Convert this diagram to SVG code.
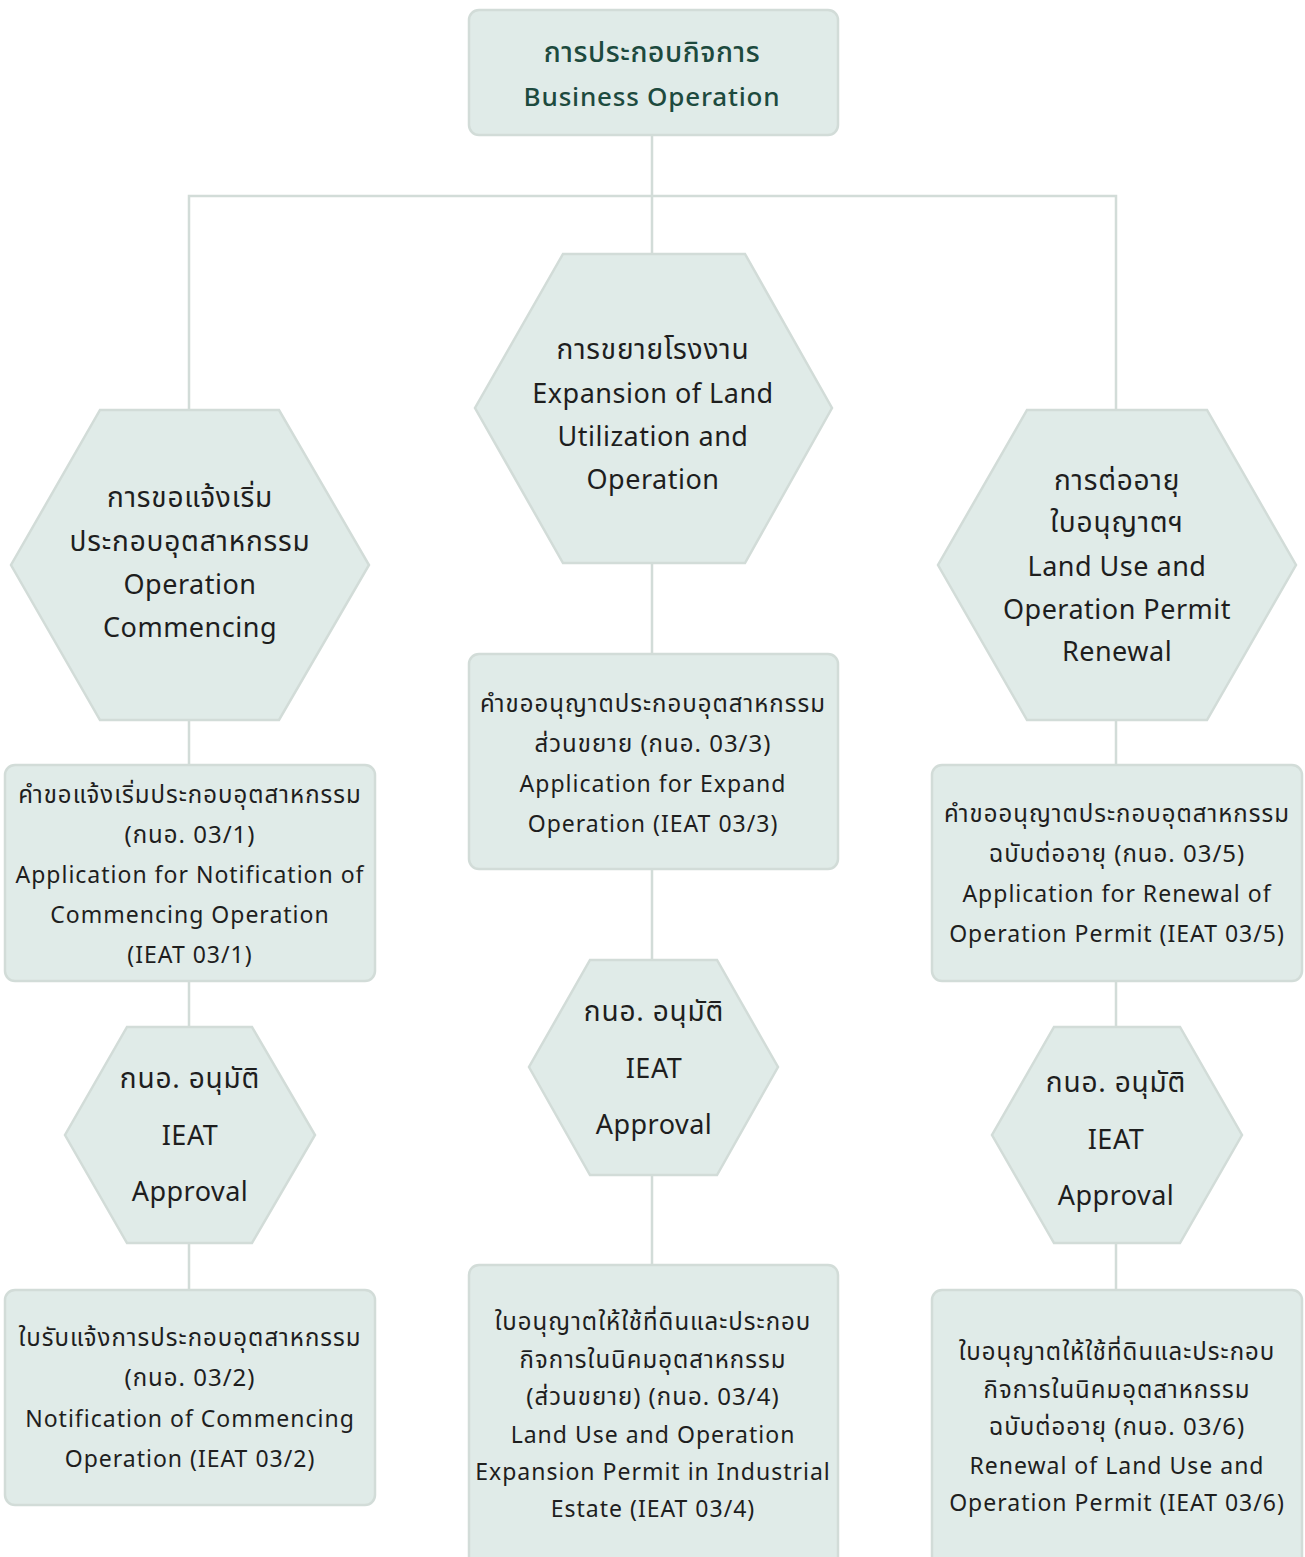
<svg xmlns="http://www.w3.org/2000/svg" width="1305" height="1557" viewBox="0 0 1305 1557">
<style>
.n{fill:#e0ebe8;stroke:#d2dcd8;stroke-width:2.5}
.c{stroke:#d2dcd8;stroke-width:2.5;fill:none}
text{font-family:"Noto Sans Thai","Noto Sans","Liberation Sans",sans-serif;text-anchor:middle;fill:#1e1e1e}
.h{font-size:27px;letter-spacing:0.5px}
.hth{font-size:28px;letter-spacing:0.8px}
.r{font-size:23px;letter-spacing:1px}
.rth{font-size:24px;letter-spacing:1px}
.t{font-size:26px;fill:#1d4a3e;font-weight:500;letter-spacing:0.8px}
.tth{font-size:28px;fill:#1d4a3e;font-weight:500;letter-spacing:0.6px}
</style>
<rect width="1305" height="1557" fill="#ffffff"/>
<g id="connectors">
<path class="c" d="M652 135V254M189 410V196H1116V410"/>
<path class="c" d="M189 720V765M189 981V1027M189 1243V1290"/>
<path class="c" d="M652 563V654M652 869V960M652 1175V1265"/>
<path class="c" d="M1116 720V765M1116 981V1027M1116 1243V1290"/>
</g>
<g id="top">
<rect class="n" x="469" y="10" width="369" height="125" rx="10"/>
<text class="tth" x="652" y="62">การประกอบกิจการ</text>
<text class="t" x="652" y="106">Business Operation</text>
</g>
<g id="hex-left">
<polygon class="n" points="100,410 279,410 369,565 279,720 100,720 11,565"/>
<text class="hth" x="190" y="507">การขอแจ้งเริ่ม</text>
<text class="hth" x="190" y="551">ประกอบอุตสาหกรรม</text>
<text class="h" x="190" y="594">Operation</text>
<text class="h" x="190" y="637">Commencing</text>
</g>
<g id="hex-center">
<polygon class="n" points="563,254 745,254 832,408 745,563 563,563 475,408"/>
<text class="hth" x="653" y="359">การขยายโรงงาน</text>
<text class="h" x="653" y="403">Expansion of Land</text>
<text class="h" x="653" y="446">Utilization and</text>
<text class="h" x="653" y="489">Operation</text>
</g>
<g id="hex-right">
<polygon class="n" points="1027,410 1207,410 1296,565 1207,720 1027,720 938,565"/>
<text class="hth" x="1117" y="490">การต่ออายุ</text>
<text class="hth" x="1117" y="532">ใบอนุญาตฯ</text>
<text class="h" x="1117" y="576">Land Use and</text>
<text class="h" x="1117" y="619">Operation Permit</text>
<text class="h" x="1117" y="661">Renewal</text>
</g>
<g id="app-left">
<rect class="n" x="5" y="765" width="370" height="216" rx="10"/>
<text class="rth" x="190" y="803">คำขอแจ้งเริ่มประกอบอุตสาหกรรม</text>
<text class="rth" x="190" y="843">(กนอ. 03/1)</text>
<text class="r" x="190" y="883">Application for Notification of</text>
<text class="r" x="190" y="923">Commencing Operation</text>
<text class="r" x="190" y="963">(IEAT 03/1)</text>
</g>
<g id="app-center">
<rect class="n" x="469" y="654" width="369" height="215" rx="10"/>
<text class="rth" x="653" y="712">คำขออนุญาตประกอบอุตสาหกรรม</text>
<text class="rth" x="653" y="752">ส่วนขยาย (กนอ. 03/3)</text>
<text class="r" x="653" y="792">Application for Expand</text>
<text class="r" x="653" y="832">Operation (IEAT 03/3)</text>
</g>
<g id="app-right">
<rect class="n" x="932" y="765" width="370" height="216" rx="10"/>
<text class="rth" x="1117" y="822">คำขออนุญาตประกอบอุตสาหกรรม</text>
<text class="rth" x="1117" y="862">ฉบับต่ออายุ (กนอ. 03/5)</text>
<text class="r" x="1117" y="902">Application for Renewal of</text>
<text class="r" x="1117" y="942">Operation Permit (IEAT 03/5)</text>
</g>
<g id="approve-left">
<polygon class="n" points="127,1027 252,1027 315,1135 252,1243 127,1243 65,1135"/>
<text class="hth" x="190" y="1088">กนอ. อนุมัติ</text>
<text class="h" x="190" y="1145">IEAT</text>
<text class="h" x="190" y="1201">Approval</text>
</g>
<g id="approve-center">
<polygon class="n" points="590,960 717,960 778,1067 717,1175 590,1175 529,1067"/>
<text class="hth" x="654" y="1021">กนอ. อนุมัติ</text>
<text class="h" x="654" y="1078">IEAT</text>
<text class="h" x="654" y="1134">Approval</text>
</g>
<g id="approve-right">
<polygon class="n" points="1054,1027 1180,1027 1242,1135 1180,1243 1054,1243 992,1135"/>
<text class="hth" x="1116" y="1092">กนอ. อนุมัติ</text>
<text class="h" x="1116" y="1149">IEAT</text>
<text class="h" x="1116" y="1205">Approval</text>
</g>
<g id="permit-left">
<rect class="n" x="5" y="1290" width="370" height="215" rx="10"/>
<text class="rth" x="190" y="1346">ใบรับแจ้งการประกอบอุตสาหกรรม</text>
<text class="rth" x="190" y="1386">(กนอ. 03/2)</text>
<text class="r" x="190" y="1427">Notification of Commencing</text>
<text class="r" x="190" y="1467">Operation (IEAT 03/2)</text>
</g>
<g id="permit-center">
<rect class="n" x="469" y="1265" width="369" height="310" rx="10"/>
<text class="rth" x="653" y="1330">ใบอนุญาตให้ใช้ที่ดินและประกอบ</text>
<text class="rth" x="653" y="1368">กิจการในนิคมอุตสาหกรรม</text>
<text class="rth" x="653" y="1405">(ส่วนขยาย) (กนอ. 03/4)</text>
<text class="r" x="653" y="1443">Land Use and Operation</text>
<text class="r" x="653" y="1480">Expansion Permit in Industrial</text>
<text class="r" x="653" y="1517">Estate (IEAT 03/4)</text>
</g>
<g id="permit-right">
<rect class="n" x="932" y="1290" width="370" height="285" rx="10"/>
<text class="rth" x="1117" y="1360">ใบอนุญาตให้ใช้ที่ดินและประกอบ</text>
<text class="rth" x="1117" y="1398">กิจการในนิคมอุตสาหกรรม</text>
<text class="rth" x="1117" y="1435">ฉบับต่ออายุ (กนอ. 03/6)</text>
<text class="r" x="1117" y="1474">Renewal of Land Use and</text>
<text class="r" x="1117" y="1511">Operation Permit (IEAT 03/6)</text>
</g>
</svg>
